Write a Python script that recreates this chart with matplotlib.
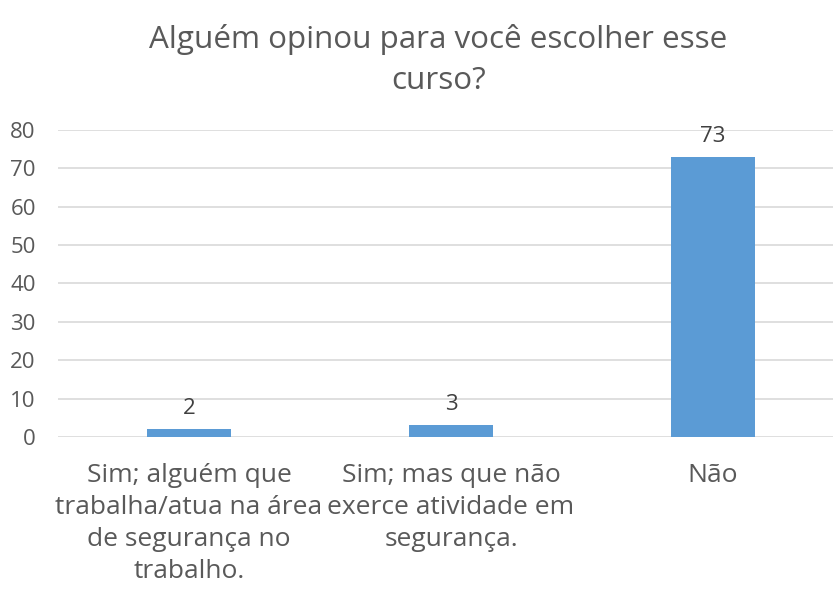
import numpy as np
import matplotlib.pyplot as plt

categories = ['Sim; alguém que\ntrabalha/atua na área\nde segurança no\ntrabalho.',
              'Sim; mas que não\nexerce atividade em\nsegurança.',
              'Não']
values = [2, 3, 73]
yticks = [0, 10, 20, 30, 40, 50, 60, 70, 80]

plt.rcParams['font.family'] = ['Open Sans', 'DejaVu Sans']
txt = '#595959'

fig = plt.figure(figsize=(8.33, 5.93), dpi=100)
ax = fig.add_axes([0.0696, 0.2631, 0.9436, 0.5177])

x = np.arange(len(values))
ax.bar(x, values, width=0.317, color='#5B9BD5', zorder=3)
for xi, v in zip(x, values):
    ax.text(xi, v + 2.6, str(v), ha='center', va='bottom', fontsize=16, color='#404040')

ax.set_xlim(-0.5, 2.5)
ax.set_ylim(0, 80)
ax.set_yticks(yticks)
ax.set_xticks(x)
ax.set_xticklabels(categories, fontsize=19, color=txt, linespacing=1.37)
ax.tick_params(axis='y', labelsize=16, labelcolor=txt, length=0, pad=16)
ax.tick_params(axis='x', length=0, pad=19)
ax.grid(axis='y', color='#D9D9D9', linewidth=1.2, zorder=0)
for s in ax.spines.values():
    s.set_visible(False)

fig.text(0.526, 0.96, 'Alguém opinou para você escolher esse\ncurso?', ha='center', va='top',
         fontsize=22.6, color=txt, linespacing=1.47)

plt.savefig('out.png', dpi=100)
